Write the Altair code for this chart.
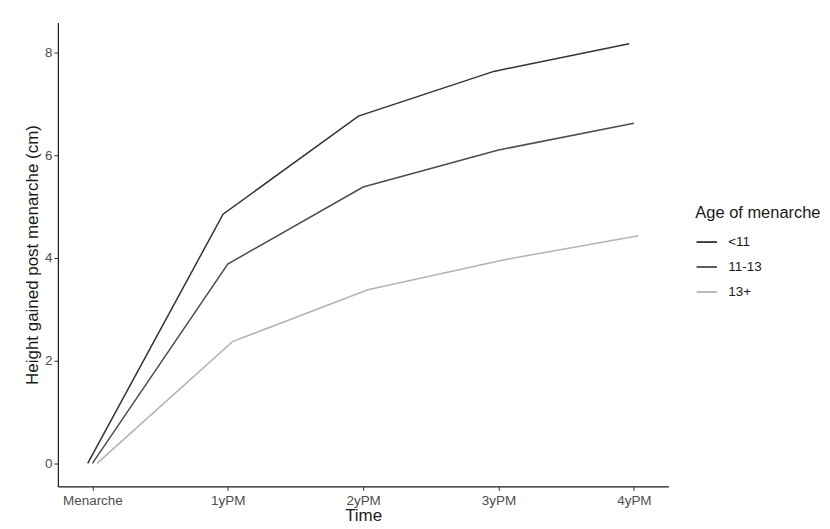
import altair as alt
import pandas as pd

times = ["Menarche", "1yPM", "2yPM", "3yPM", "4yPM"]
groups = ["<11", "11-13", "13+"]
under11 = [0, 4.85, 6.76, 7.63, 8.17]
age11_13 = [0, 3.88, 5.38, 6.10, 6.62]
over13 = [0, 2.37, 3.38, 3.96, 4.43]
colors = ["#333333", "#4d4d4d", "#b3b3b3"]

rows = []
for g, vals in zip(groups, [under11, age11_13, over13]):
    for t, v in zip(times, vals):
        rows.append({"Time": t, "group": g, "height": v})
df = pd.DataFrame(rows)

chart = alt.Chart(df).mark_line(strokeWidth=1.5).encode(
    x=alt.X("Time:N", sort=times,
            scale=alt.Scale(type="point", padding=0.255),
            axis=alt.Axis(title="Time", labelAngle=0, labelFontSize=13.5, labelColor="#4d4d4d",
                          titleFontSize=17, titleFontWeight="normal", titleColor="#1a1a1a",
                          domainColor="#1a1a1a", domainWidth=1.2, tickColor="#333333",
                          tickSize=4, labelPadding=3, titlePadding=1, grid=False)),
    xOffset=alt.XOffset("group:N", sort=groups,
                        scale=alt.Scale(type="point", range=[-4.7, 4.7], padding=0)),
    y=alt.Y("height:Q",
            scale=alt.Scale(domain=[-0.45, 8.58], nice=False, zero=False),
            axis=alt.Axis(title="Height gained post menarche (cm)", values=[0, 2, 4, 6, 8],
                          labelFontSize=13.5, labelColor="#4d4d4d", titleFontSize=17,
                          titleFontWeight="normal", titleColor="#1a1a1a",
                          domainColor="#1a1a1a", domainWidth=1.2, tickColor="#333333",
                          tickSize=4, labelPadding=2, titlePadding=3, grid=False)),
    color=alt.Color("group:N", sort=groups,
                    scale=alt.Scale(domain=groups, range=colors),
                    legend=alt.Legend(title="Age of menarche", orient="none",
                                      legendX=639, legendY=183,
                                      titleFontSize=16.5, titleFontWeight="normal",
                                      titleColor="#1a1a1a", titlePadding=9,
                                      labelFontSize=13.5, labelColor="#1a1a1a",
                                      symbolType="stroke", symbolSize=420,
                                      symbolStrokeWidth=1.8, rowPadding=7,
                                      labelOffset=10)),
).properties(
    width=612, height=465,
    padding={"left": 50, "top": 14, "right": 154, "bottom": 41},
    autosize=alt.AutoSizeParams(type="none"),
).configure(font="Liberation Sans").configure_view(stroke=None)

chart.save("out.html", embed_options={"renderer": "svg", "actions": False})
